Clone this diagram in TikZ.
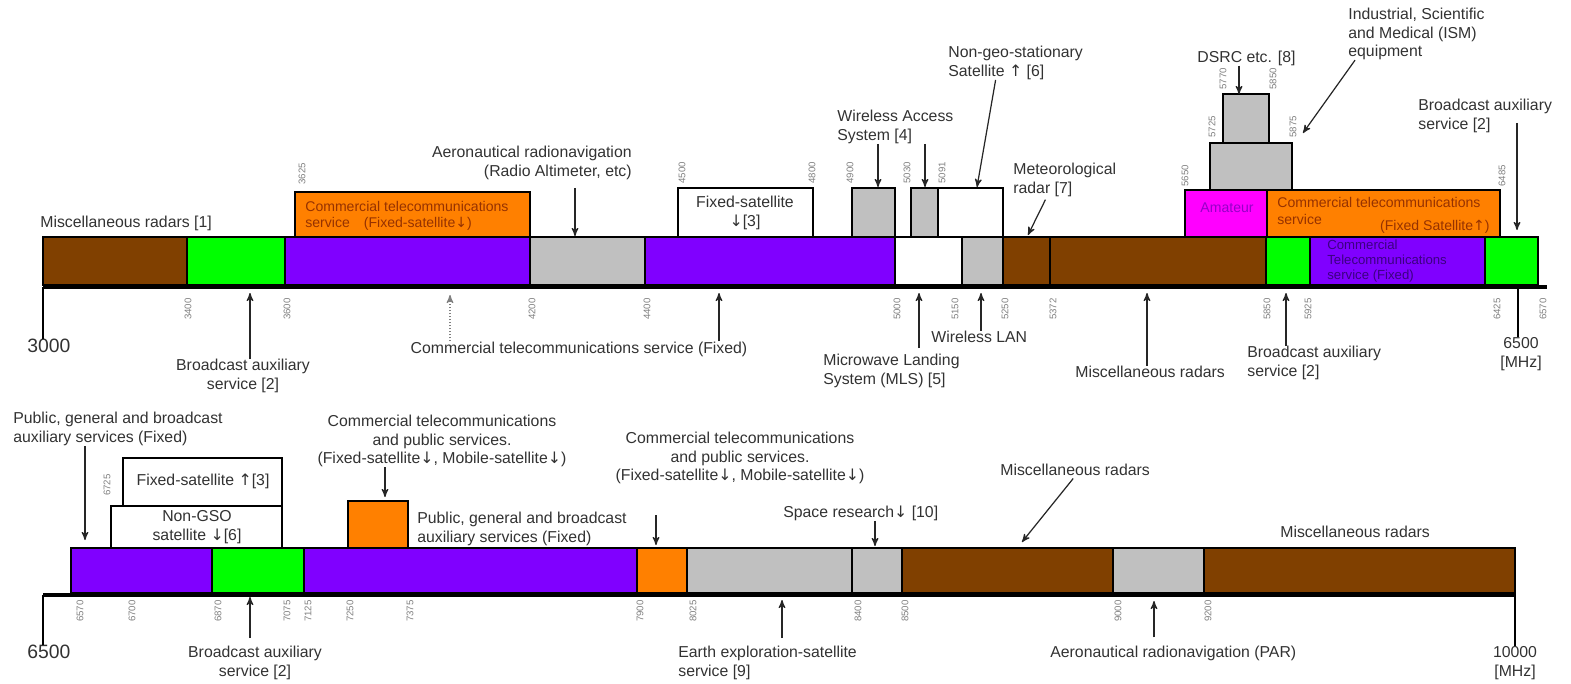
\documentclass[tikz,border=0pt]{standalone}
\usepackage{fontspec}
\setmainfont{Liberation Sans}
\newfontfamily\symfont{DejaVu Sans}
\usetikzlibrary{arrows}

\definecolor{radar}{RGB}{128,64,0}
\definecolor{bas}{RGB}{0,255,0}
\definecolor{fixd}{RGB}{128,0,255}
\definecolor{misc}{RGB}{192,192,192}
\definecolor{comsat}{RGB}{255,128,0}
\definecolor{amat}{RGB}{255,0,255}
\definecolor{lbltext}{RGB}{50,50,50}
\definecolor{comtext}{RGB}{150,50,0}
\definecolor{amtext}{RGB}{150,0,200}
\definecolor{fixtext}{RGB}{60,0,130}

\newcommand{\arrdn}{{\symfont\char"2193}}
\newcommand{\arrup}{{\symfont\char"2191}}

\tikzstyle{band} = [draw=black, line width=0.7pt]
\tikzstyle{lbl} = [font=\fontsize{9}{10.5}\selectfont, text=lbltext, inner sep=0pt, align=left]
\tikzstyle{inlbl} = [font=\fontsize{8}{9.5}\selectfont, inner sep=0pt, align=left]
\tikzstyle{numlbl} = [font=\fontsize{11}{12}\selectfont, text=lbltext, inner sep=0pt]
\tikzstyle{tick} = [font=\fontsize{5.5}{6}\selectfont, text=gray, rotate=90, inner sep=0pt]
\tikzstyle{axisline} = [line width=0.8mm]
\tikzstyle{ptr} = [->, >=stealth', line width=0.7pt, black!85]

\begin{document}
\begin{tikzpicture}[x=0.2mm, y=-0.2mm]
\useasboundingbox (0,0) rectangle (1571,683);

% ---- upper band 3000 - 6570 MHz
\foreach \a/\b/\c in {43/187/radar, 187/285/bas, 285/530/fixd, 530/645/misc,
    645/895/fixd, 895/962/white, 962/1003/misc, 1003/1050/radar, 1050/1266/radar,
    1266/1310/bas, 1310/1485/fixd, 1485/1538/bas}
  \filldraw[band, fill=\c] (\a,237) rectangle (\b,285);
\foreach \a/\t/\b/\u/\c in {295/192/530/237/comsat, 678/188/813/237/white,
    852/188/895/237/misc, 911/188/938/237/misc, 938/188/1003/237/white,
    1185/190/1267/237/amat, 1267/190/1500/237/comsat,
    1210/143/1292/190/misc, 1223/94/1269/143/misc}
  \filldraw[band, fill=\c] (\a,\t) rectangle (\b,\u);
\draw[axisline] (43,287) -- (1547,287);
\coordinate (ax1) at (43,287);
\coordinate (ax2) at (1518,287);

% frequencies
\foreach \x/\f in {188/3400, 287/3600, 532/4200, 647/4400, 897/5000, 955/5150,
    1005/5250, 1053/5372, 1267/5850, 1308/5925, 1497/6425, 1543/6570}
  \node[tick, anchor=east] (lo-\f) at (\x,298) {\f};
\foreach \x/\y/\f in {302/185/3625, 682/184/4500, 812/184/4800, 850/184/4900,
    907/184/5030, 942/184/5091, 1185/187/5650, 1502/187/6485,
    1212/138/5725, 1293/138/5875, 1223/90/5770, 1273/90/5850}
  \node[tick, anchor=west] (hi-\f) at (\x,\y) {\f};

% labels
\node[lbl, anchor=west] (misc1) at (40,223) {Miscellaneous radars [1]};
\node[inlbl, text=comtext, anchor=west] (ctsat1) at (305,216) {Commercial telecommunications\\service\quad(Fixed-satellite\arrdn)};
\node[lbl, align=right, anchor=east] (aero) at (632,163) {Aeronautical radionavigation\\(Radio Altimeter, etc)};
\node[lbl, align=center] (fsat1) at (745,213) {Fixed-satellite\\\arrdn[3]};
\node[lbl, anchor=west] (was) at (837,127) {Wireless Access\\System [4]};
\node[lbl, anchor=west] (ngso) at (948,63) {Non-geo-stationary\\Satellite \arrup\ [6]};
\node[lbl, anchor=west] (met) at (1013,180) {Meteorological\\radar [7]};
\node[lbl, anchor=west] (ism) at (1348,34) {Industrial, Scientific\\and Medical (ISM)\\equipment};
\node[lbl, anchor=west] (dsrc) at (1197,58) {DSRC etc. [8]};
\node[lbl, anchor=west] (basr1) at (1418,116) {Broadcast auxiliary\\service [2]};
\node[inlbl, text=amtext] (amat) at (1227,208) {Amateur};
\node[inlbl, text=comtext, anchor=west] (ctsat2) at (1277,211) {Commercial telecommunications\\service};
\node[inlbl, text=comtext, anchor=east] (ctsat2b) at (1490,227) {(Fixed Satellite\arrup)};
\node[inlbl, font=\fontsize{7.5}{8.5}\selectfont, text=fixtext, anchor=west] (ctfix1) at (1327,261) {Commercial\\Telecommunications\\service (Fixed)};

\node[numlbl] (f3000) at (49,346) {3000};
\node[lbl, align=center] (basl1) at (243,376) {Broadcast auxiliary\\service [2]};
\node[lbl] (ctfix2) at (579,349) {Commercial telecommunications service (Fixed)};
\node[lbl, anchor=west] (mls) at (823,371) {Microwave Landing\\System (MLS) [5]};
\node[lbl, anchor=west] (wlan) at (931,337) {Wireless LAN};
\node[lbl, anchor=west] (misc2) at (1075,372) {Miscellaneous radars};
\node[lbl, anchor=west] (basr2) at (1247,363) {Broadcast auxiliary\\service [2]};
\node[lbl, align=center] (f6500a) at (1521,354) {6500\\{[MHz]}};

% arrows
\coordinate (t-aero) at (575,236);
\coordinate (t-was1) at (878,187);
\coordinate (t-was2) at (925,187);
\coordinate (t-ngso) at (977,187);
\coordinate (t-met) at (1028,235);
\coordinate (t-ism) at (1303,133);
\coordinate (t-dsrc) at (1239,94);
\coordinate (t-basr1) at (1517,230);
\coordinate (t-basl1) at (250,293);
\coordinate (t-fix1) at (450,295);
\coordinate (t-fix2) at (719,293);
\coordinate (t-mls) at (919,293);
\coordinate (t-wlan) at (981,293);
\coordinate (t-misc2) at (1147,293);
\coordinate (t-basr2) at (1286,293);

\path[ptr] (aero.south -| t-aero) edge[shorten <=1.6mm] (t-aero)
      (was.south -| t-was1) edge (t-was1)
      (was.south -| t-was2) edge (t-was2)
      ([xshift=-4mm]ngso.south) edge (t-ngso)
      ([xshift=-3.6mm]met.south) edge[shorten <=0.6mm] (t-met)
      ([xshift=1.4mm]ism.south west) edge (t-ism)
      (dsrc.south -| t-dsrc) edge (t-dsrc)
      (basr1.south -| t-basr1) edge[shorten <=-2mm] (t-basr1)
      (basl1.north -| t-basl1) edge (t-basl1)
      (ctfix2.north -| t-fix2) edge (t-fix2)
      (mls.north -| t-mls) edge[shorten <=1.2mm] (t-mls)
      (wlan.north -| t-wlan) edge (t-wlan)
      (misc2.north -| t-misc2) edge (t-misc2)
      (basr2.north -| t-basr2) edge (t-basr2);
\path[ptr, gray, densely dotted] (ctfix2.north -| t-fix1) edge (t-fix1);
\draw[line width=0.8pt] (ax1) -- (ax1 |- f3000.north);
\draw[line width=0.8pt] (ax2) -- (ax2 |- f6500a.north);

% ---- lower band 6500 - 10000 MHz
\foreach \a/\b/\c in {71/212/fixd, 212/304/bas, 304/637/fixd, 637/687/comsat,
    687/852/misc, 852/902/misc, 902/1113/radar, 1113/1204/misc, 1204/1515/radar}
  \filldraw[band, fill=\c] (\a,548) rectangle (\b,593);
\foreach \a/\t/\b/\u/\c in {111/506/282/548/white, 123/458/282/506/white,
    348/501/408/548/comsat}
  \filldraw[band, fill=\c] (\a,\t) rectangle (\b,\u);
\draw[axisline] (43,595) -- (1515,595);
\coordinate (ax3) at (43,595);
\coordinate (ax4) at (1515,593);

\foreach \x/\f in {80/6570, 132/6700, 218/6870, 287/7075, 308/7125, 350/7250,
    410/7375, 640/7900, 693/8025, 858/8400, 905/8500, 1118/9000, 1208/9200}
  \node[tick, anchor=east] (lo-\f) at (\x,600) {\f};
\node[tick] (hi-6725) at (107,485) {6725};

\node[numlbl] (f6500b) at (49,652) {6500};
\node[lbl, anchor=west] (pub1) at (13,429) {Public, general and broadcast\\auxiliary services (Fixed)};
\node[lbl] (fsat2) at (203,481) {Fixed-satellite \arrup[3]};
\node[lbl, align=center] (ngsob) at (197,527) {Non-GSO\\satellite \arrdn[6]};
\node[lbl, align=center] (cps1) at (442,441) {Commercial telecommunications\\and public services.\\(Fixed-satellite\arrdn, Mobile-satellite\arrdn)};
\node[lbl, anchor=west] (pub2) at (417,529) {Public, general and broadcast\\auxiliary services (Fixed)};
\node[lbl, align=center] (cps2) at (740,458) {Commercial telecommunications\\and public services.\\(Fixed-satellite\arrdn, Mobile-satellite\arrdn)};
\node[lbl, anchor=west] (space) at (783,513) {Space research\arrdn\ [10]};
\node[lbl, anchor=west] (misc3) at (1000,470) {Miscellaneous radars};
\node[lbl, anchor=west] (misc4) at (1280,532) {Miscellaneous radars};
\node[lbl, align=center] (basb) at (255,663) {Broadcast auxiliary\\service [2]};
\node[lbl, anchor=west] (eesat) at (678,663) {Earth exploration-satellite\\service [9]};
\node[lbl, anchor=west] (par) at (1050,653) {Aeronautical radionavigation (PAR)};
\node[lbl, align=center] (f10000) at (1515,663) {10000\\{[MHz]}};

\coordinate (t-pub1) at (85,540);
\coordinate (t-cps1) at (385,497);
\coordinate (t-cps2) at (656,545);
\coordinate (t-space) at (875,546);
\coordinate (t-misc3) at (1022,542);
\coordinate (t-basb) at (250,597);
\coordinate (t-eesat) at (782,600);
\coordinate (t-par) at (1154,601);

\path[ptr] (pub1.south -| t-pub1) edge (t-pub1)
      (cps1.south -| t-cps1) edge (t-cps1)
      (cps2.south -| t-cps2) edge[shorten <=6.2mm] (t-cps2)
      (space.south -| t-space) edge (t-space)
      (misc3.south) edge[shorten <=0.6mm] (t-misc3)
      (basb.north -| t-basb) edge[shorten <=1.6mm] (t-basb)
      (eesat.north -| t-eesat) edge[shorten <=1.6mm] (t-eesat)
      (par.north -| t-par) edge[shorten <=1.6mm] (t-par);
\draw[line width=0.8pt] (ax3) -- (ax3 |- f6500b.north);
\draw[line width=0.8pt] (ax4) -- (ax4 |- f10000.north);
\end{tikzpicture}
\end{document}
